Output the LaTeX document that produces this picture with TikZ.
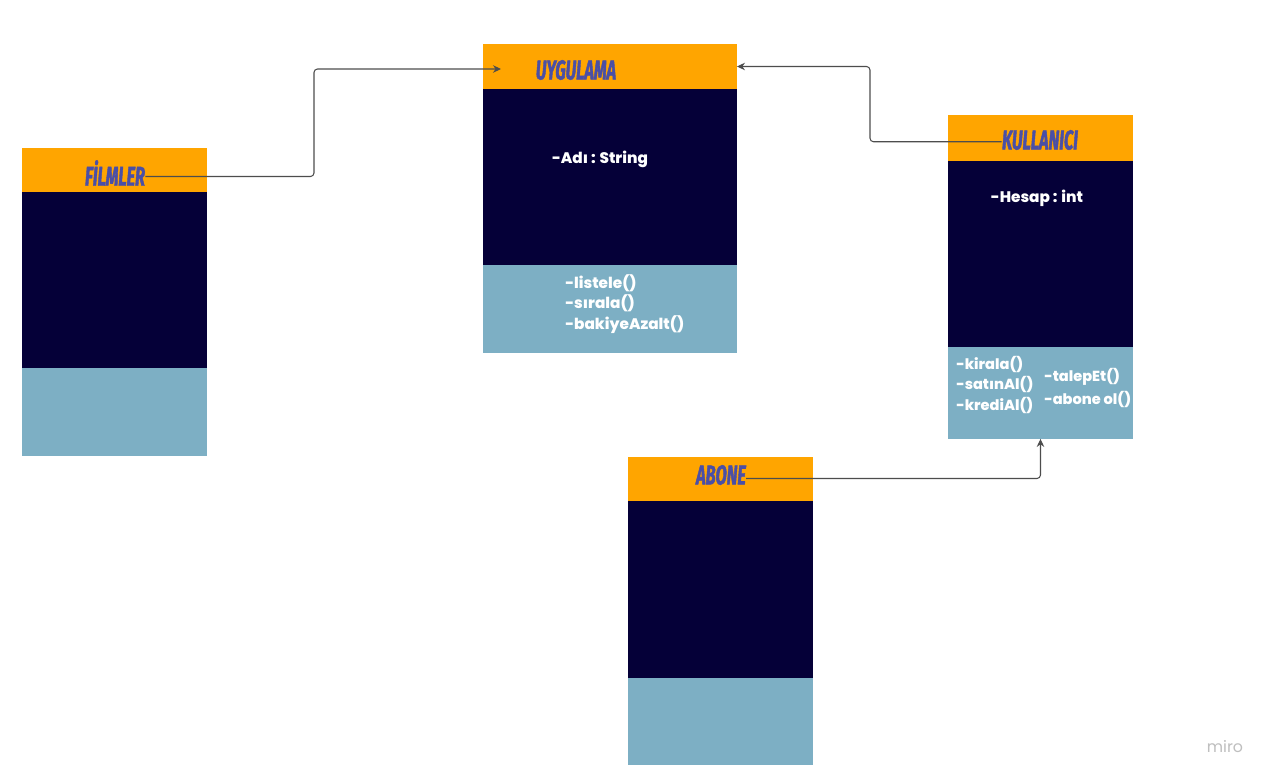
\documentclass[tikz,border=0pt]{standalone}
\usepackage{fontspec}
\setmainfont{Poppins}
\newfontfamily\membfont{Poppins}[UprightFont=* ExtraBold]
\newfontfamily\hdrfont[FakeStretch=0.6,FakeBold=1.5]{Fira Sans}
\usetikzlibrary{arrows.meta,positioning}

\definecolor{hdrorange}{HTML}{FFA500}
\definecolor{bodynavy}{HTML}{050038}
\definecolor{opsblue}{HTML}{7DAFC4}
\definecolor{titleblue}{HTML}{4A4FA6}
\definecolor{linegray}{HTML}{4D4D4D}

\begin{document}
\begin{tikzpicture}[
  x=0.02cm, y=-0.02cm,
  hdr/.style={fill=hdrorange, inner sep=0pt, outer sep=0pt, anchor=north west, minimum width=3.7cm, minimum height=0.88cm},
  attrs/.style={fill=bodynavy, inner sep=0pt, outer sep=0pt, minimum width=3.7cm, minimum height=3.52cm},
  ops/.style={fill=opsblue, inner sep=0pt, outer sep=0pt, minimum width=3.7cm, minimum height=1.76cm},
  title/.style={text=titleblue, inner sep=0pt, font=\hdrfont\bfseries\itshape\fontsize{15.5}{15.5}\selectfont},
  memb/.style={text=white, inner sep=0pt, align=left, font=\membfont\fontsize{8.7}{11.5}\selectfont},
  link/.style={draw=linegray, line width=0.6pt, rounded corners=2pt, -{Stealth[length=1.6mm,width=1.5mm]}}
]
\useasboundingbox[fill=white] (0,0) rectangle (1275,783);

% classes
\node[hdr] (filmler) at (22,148) {};
\node[attrs, below=0pt of filmler] (filmlerA) {};
\node[ops, below=0pt of filmlerA] (filmlerO) {};
\node[title] (filmlerT) at (115,173) {FİLMLER};

\node[hdr, minimum width=5.08cm, minimum height=0.9cm] (uygulama) at (483,44) {};
\node[attrs, minimum width=5.08cm, below=0pt of uygulama] (uygulamaA) {};
\node[ops, minimum width=5.08cm, below=0pt of uygulamaA] (uygulamaO) {};
\node[title] (uygulamaT) at (576,70) {UYGULAMA};
\node[memb] (uygAttr) at (600,159) {-Adı : String};
\node[memb, anchor=west] (uygOps) at (565,304) {-listele()\\-sırala()\\-bakiyeAzalt()};

\node[hdr, minimum height=0.92cm] (kullanici) at (948,115) {};
\node[attrs, minimum height=3.72cm, below=0pt of kullanici] (kullaniciA) {};
\node[ops, minimum height=1.84cm, below=0pt of kullaniciA] (kullaniciO) {};
\node[title] (kullaniciT) at (1040,140) {KULLANICI};
\node[memb] (kulAttr) at (1037,198) {-Hesap : int};
\node[memb, anchor=west, font=\membfont\fontsize{8.3}{11.5}\selectfont] (kulOpsL) at (956,385) {-kirala()\\-satınAl()\\-krediAl()};
\node[memb, anchor=west, font=\membfont\fontsize{8.3}{13.5}\selectfont] (kulOpsR) at (1044,388) {-talepEt()\\-abone ol()};

\node[hdr] (abone) at (628,457) {};
\node[attrs, minimum height=3.54cm, below=0pt of abone] (aboneA) {};
\node[ops, minimum height=1.74cm, below=0pt of aboneA] (aboneO) {};
\node[title] (aboneT) at (721,475) {ABONE};

% connectors
\coordinate (uygIn) at (501,69);
\draw[link] ([yshift=-2pt]filmlerT.east) -| (314,69) -- (uygIn);
\draw[link] ([yshift=-1pt]kullaniciT.west) -| (870,66.5) -- (uygulama.east);
\draw[link] ([yshift=-2pt]aboneT.east) -| (kullaniciO.south);

\node[text=black!25, font=\fontsize{9}{9}\selectfont] (miro) at (1225,747) {miro};
\end{tikzpicture}
\end{document}
